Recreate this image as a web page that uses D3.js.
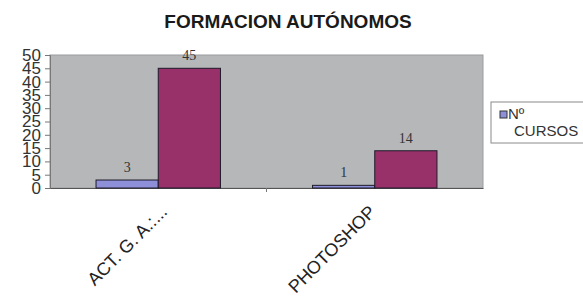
<!DOCTYPE html>
<html>
<head>
<meta charset="utf-8">
<script src="https://cdn.jsdelivr.net/npm/d3@7"></script>
<style>
  body { margin: 0; background: #fff; }
  svg { display: block; }
</style>
</head>
<body>
<script>
const categories = ["ACT. G. A.:...", "PHOTOSHOP"];
const seriesNames = ["Nº CURSOS", "ALUMNOS"];
const cursos = [3, 1];
const alumnos = [45, 14];
const yTicks = [0, 5, 10, 15, 20, 25, 30, 35, 40, 45, 50];

const W = 583, H = 301;
const plot = { left: 50, right: 483, top: 55, bottom: 188 };

const svg = d3.select("body").append("svg")
  .attr("width", W)
  .attr("height", H);

// title
svg.append("text")
  .attr("x", 288).attr("y", 28)
  .attr("text-anchor", "middle")
  .attr("font-family", "Liberation Sans, Arial, sans-serif")
  .attr("font-weight", "bold")
  .attr("font-size", 19)
  .attr("fill", "#1a1a1a")
  .text("FORMACION AUTÓNOMOS");

const x = d3.scaleBand().domain(categories).range([plot.left, plot.right]);
const xs = d3.scaleBand().domain([0, 1]).range([0, x.bandwidth()]).paddingInner(0).paddingOuter(0.74);
const y = d3.scaleLinear().domain([0, 50]).range([plot.bottom, plot.top]);

// plot area
svg.append("rect")
  .attr("x", plot.left).attr("y", plot.top)
  .attr("width", plot.right - plot.left).attr("height", plot.bottom - plot.top)
  .attr("fill", "#b5b7b9")
  .attr("stroke", "#9a9c9e")
  .attr("stroke-width", 1);

// y axis
const yAxis = svg.append("g")
  .attr("transform", `translate(${plot.left},0)`)
  .call(d3.axisLeft(y).tickValues(yTicks).tickSize(5).tickPadding(4));
yAxis.select(".domain").attr("stroke", "#777");
yAxis.selectAll(".tick line").attr("stroke", "#777");
yAxis.selectAll(".tick text")
  .attr("font-family", "Liberation Sans, Arial, sans-serif")
  .attr("font-size", 17)
  .attr("fill", "#333");

// x axis
const xAxis = svg.append("g")
  .attr("transform", `translate(0,${plot.bottom})`)
  .call(d3.axisBottom(x).tickSize(0).tickFormat(""));
xAxis.select(".domain").attr("stroke", "#555");
svg.append("line")
  .attr("x1", x(categories[1])).attr("x2", x(categories[1]))
  .attr("y1", plot.bottom).attr("y2", plot.bottom + 4)
  .attr("stroke", "#777");

// bars
const series = [cursos, alumnos];
const colors = ["#8d8fd8", "#98306a"];
series.forEach((vals, si) => {
  svg.append("g").selectAll("rect")
    .data(categories)
    .join("rect")
    .attr("x", (d) => x(d) + xs(si))
    .attr("y", (d, i) => y(vals[i]))
    .attr("width", xs.bandwidth())
    .attr("height", (d, i) => plot.bottom - y(vals[i]))
    .attr("fill", colors[si])
    .attr("stroke", "#1e1a2a")
    .attr("stroke-width", 1);

  svg.append("g").selectAll("text")
    .data(categories)
    .join("text")
    .attr("x", (d) => x(d) + xs(si) + xs.bandwidth() / 2)
    .attr("y", (d, i) => y(vals[i]) - 8)
    .attr("text-anchor", "middle")
    .attr("font-family", "Liberation Serif, Times New Roman, serif")
    .attr("font-size", 14)
    .attr("fill", "#333")
    .text((d, i) => vals[i]);
});

// category labels
svg.append("g").selectAll("text")
  .data(categories)
  .join("text")
  .attr("transform", (d, i) => `translate(${x(d) + x.bandwidth() / 2 + (i === 0 ? 10 : 2)},213) rotate(-45)`)
  .attr("text-anchor", "end")
  .attr("font-family", "Liberation Sans, Arial, sans-serif")
  .attr("font-size", 18)
  .attr("fill", "#222")
  .text((d) => d);

// legend
const lg = svg.append("g").attr("transform", "translate(491,102)");
lg.append("rect")
  .attr("width", 110).attr("height", 41)
  .attr("fill", "#fff")
  .attr("stroke", "#8a8a8a");
lg.append("rect")
  .attr("x", 9).attr("y", 9)
  .attr("width", 7).attr("height", 7)
  .attr("fill", colors[0])
  .attr("stroke", "#333");
lg.append("text")
  .attr("x", 17).attr("y", 17)
  .attr("font-family", "Liberation Sans, Arial, sans-serif")
  .attr("font-size", 15)
  .attr("fill", "#333")
  .text("Nº");
lg.append("text")
  .attr("x", 23).attr("y", 34)
  .attr("font-family", "Liberation Sans, Arial, sans-serif")
  .attr("font-size", 15)
  .attr("fill", "#333")
  .text("CURSOS");
</script>
</body>
</html>
